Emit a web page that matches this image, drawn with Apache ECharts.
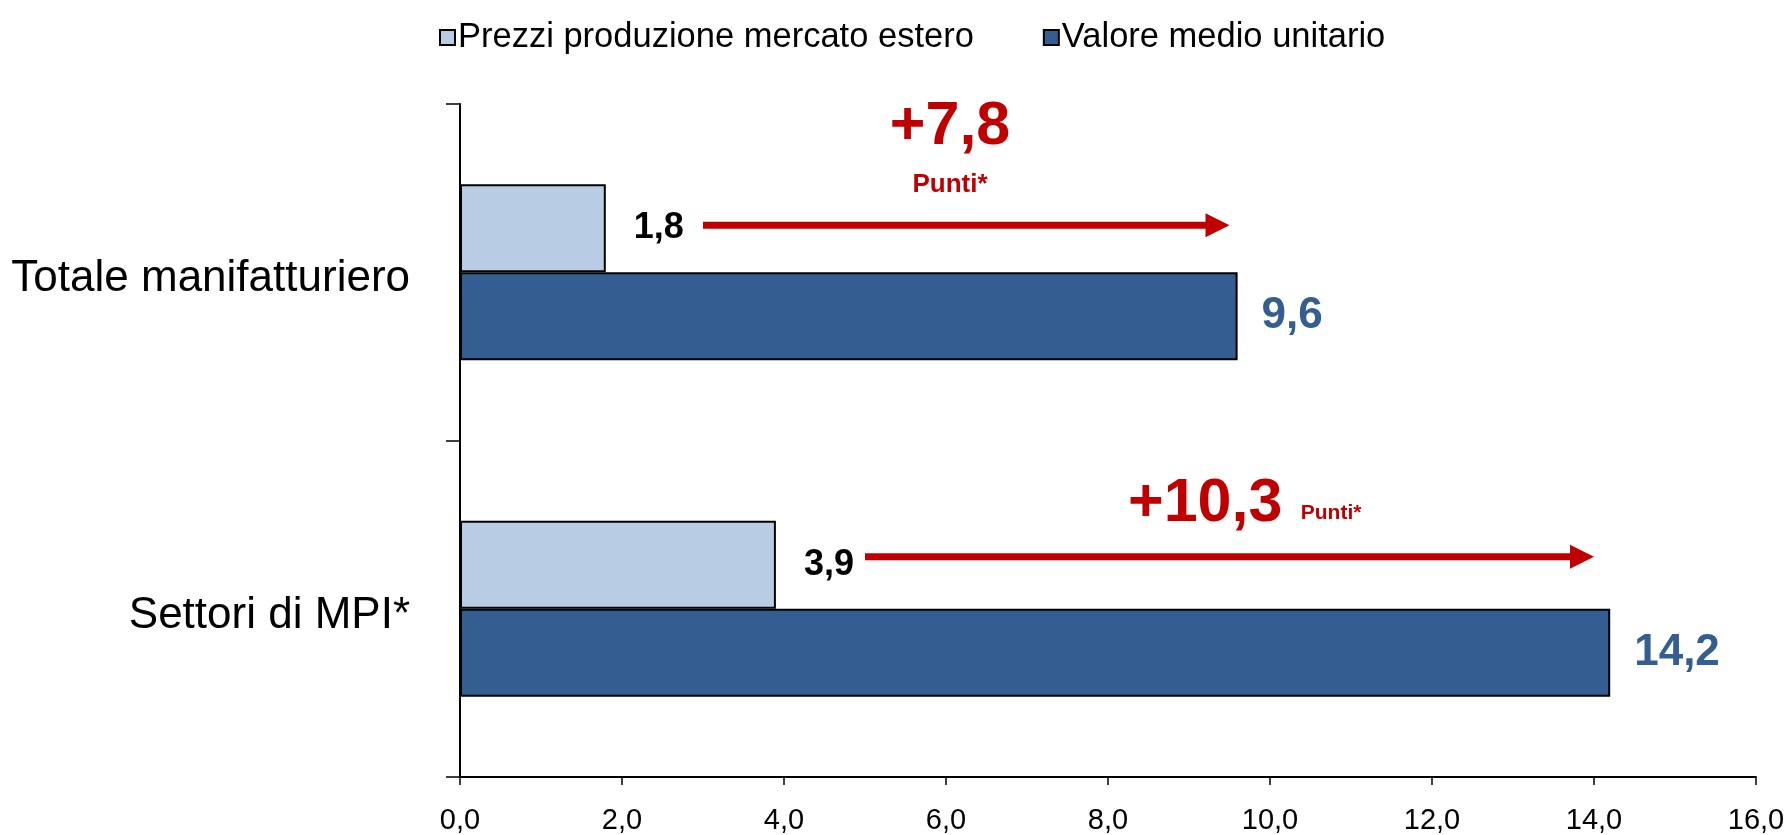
<!DOCTYPE html>
<html lang="it">
<head>
<meta charset="utf-8">
<title>Prezzi e valori medi unitari</title>
<script src="https://cdn.jsdelivr.net/npm/echarts@6/dist/echarts.min.js"></script>
<style>
  html, body { margin: 0; padding: 0; background: #fff; }
  #main { width: 1791px; height: 835px; }
</style>
</head>
<body>
<div id="main"></div>
<script type="text/javascript">
  // categories (top to bottom)
  let categories = ['Totale manifatturiero', 'Settori di MPI*'];
  // series values
  let prezziEsteri = [1.8, 3.9];     // Prezzi produzione mercato estero
  let valoreMedio = [9.6, 14.2];     // Valore medio unitario
  // arrows: from / to (x values) and gap shown above
  let arrowFrom = [3.0, 5.0];
  let arrowTo = [9.5, 14.0];
  let gapPunti = [7.8, 10.3];
  // x axis ticks
  let xMin = 0, xMax = 16, xStep = 2;

  const NARROW = '"Liberation Sans Narrow", "Arial Narrow", "Liberation Sans", sans-serif';
  const REGULAR = '"Liberation Sans", Arial, sans-serif';
  const RED = '#C00000';
  const LIGHT = '#B8CCE4';
  const DARK = '#345E91';
  const BAR_W = 88;

  function comma(v) {
    return Number(v).toFixed(1).replace('.', ',');
  }

  // placement of each arrow and its note (style only)
  let noteStyle = [
    { arrowDy: -47, bigX: 6.05, bigDy: -98, smallX: 6.05, smallDy: -40, smallAlign: 'center', smallSize: 26 },
    { arrowDy: -52, bigX: 9.2, bigDy: -53, smallX: 10.38, smallDy: -44, smallAlign: 'left', smallSize: 21 }
  ];

  let arrowData = categories.map((c, i) => [arrowFrom[i], arrowTo[i], i, gapPunti[i]]);

  let chart = echarts.init(document.getElementById('main'));

  let option = {
    animation: false,
    legend: {
      data: ['Prezzi produzione mercato estero', 'Valore medio unitario'],
      left: 434,
      top: 15,
      icon: 'rect',
      itemWidth: 15,
      itemHeight: 15,
      itemGap: 69,
      itemStyle: { borderColor: '#000', borderWidth: 2 },
      textStyle: { fontFamily: NARROW, fontSize: 34.5, color: '#000', padding: [0, 0, 0, -2] }
    },
    grid: { left: 460, right: 35, top: 104, bottom: 55 },
    xAxis: {
      type: 'value',
      min: xMin,
      max: xMax,
      interval: xStep,
      splitLine: { show: false },
      axisLine: { show: true, lineStyle: { color: '#000', width: 2 } },
      axisTick: { show: true, length: 8, lineStyle: { color: '#000', width: 1.5 } },
      axisLabel: {
        formatter: comma,
        fontFamily: NARROW,
        fontSize: 29,
        color: '#000',
        margin: 29
      }
    },
    yAxis: {
      type: 'category',
      data: categories,
      inverse: true,
      axisLine: { show: true, lineStyle: { color: '#000', width: 2 } },
      axisTick: { show: true, length: 14, lineStyle: { color: '#000', width: 1.5 } },
      axisLabel: {
        fontFamily: REGULAR,
        fontSize: 44,
        color: '#000',
        margin: 50,
        lineHeight: 58,
        verticalAlign: 'top',
        padding: [-22, 0, 0, 0]
      }
    },
    series: [
      {
        name: 'Prezzi produzione mercato estero',
        type: 'bar',
        data: prezziEsteri,
        barWidth: BAR_W,
        barGap: '0%',
        itemStyle: { color: LIGHT, borderColor: '#000', borderWidth: 2 },
        label: {
          show: true,
          position: 'right',
          distance: 28,
          formatter: p => comma(p.value),
          fontFamily: NARROW,
          fontWeight: 'bold',
          fontSize: 36,
          color: '#000'
        }
      },
      {
        name: 'Valore medio unitario',
        type: 'bar',
        data: valoreMedio,
        barWidth: BAR_W,
        barGap: '0%',
        itemStyle: { color: DARK, borderColor: '#000', borderWidth: 2 },
        label: {
          show: true,
          position: 'right',
          distance: 24,
          formatter: p => comma(p.value),
          fontFamily: NARROW,
          fontWeight: 'bold',
          fontSize: 44,
          color: DARK
        }
      },
      {
        type: 'custom',
        data: arrowData,
        z: 10,
        silent: true,
        encode: { x: [0, 1], y: 2 },
        renderItem: function (params, api) {
          let i = params.dataIndex;
          let st = noteStyle[i];
          let a = api.coord([api.value(0), api.value(2)]);
          let b = api.coord([api.value(1), api.value(2)]);
          let y = a[1] + st.arrowDy;
          let head = 24;
          let big = api.coord([st.bigX, api.value(2)]);
          let small = api.coord([st.smallX, api.value(2)]);
          return {
            type: 'group',
            children: [
              {
                type: 'line',
                shape: { x1: a[0], y1: y, x2: b[0] - head + 2, y2: y },
                style: { stroke: RED, lineWidth: 7 }
              },
              {
                type: 'polygon',
                shape: { points: [[b[0] - head, y - 12], [b[0], y], [b[0] - head, y + 12]] },
                style: { fill: RED }
              },
              {
                type: 'text',
                x: big[0],
                y: y + st.bigDy,
                style: {
                  text: '+' + comma(api.value(3)),
                  fill: RED,
                  font: 'bold 61px ' + NARROW,
                  align: 'center',
                  verticalAlign: 'middle'
                }
              },
              {
                type: 'text',
                x: small[0],
                y: y + st.smallDy,
                style: {
                  text: 'Punti*',
                  fill: RED,
                  font: 'bold ' + st.smallSize + 'px ' + NARROW,
                  align: st.smallAlign,
                  verticalAlign: 'middle'
                }
              }
            ]
          };
        }
      }
    ]
  };

  chart.setOption(option);
</script>
</body>
</html>
